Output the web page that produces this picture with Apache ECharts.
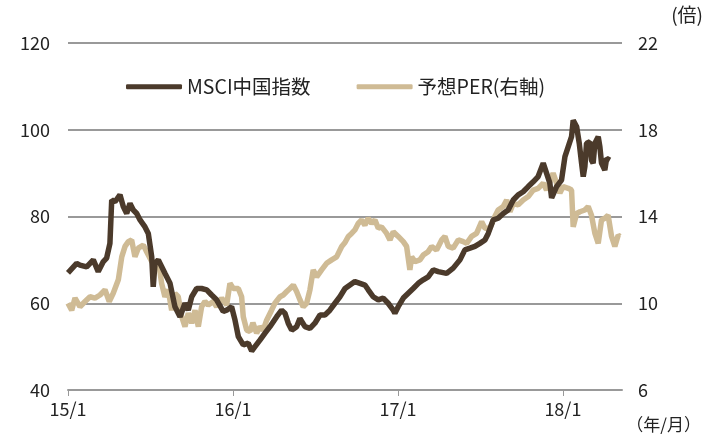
<!DOCTYPE html>
<html><head><meta charset="utf-8">
<script src="https://cdn.jsdelivr.net/npm/echarts@6/dist/echarts.min.js"></script>
<style>html,body{margin:0;padding:0;background:#fff}#c{width:715px;height:438px}</style>
</head><body><div id="c"></div>
<script>
// x positions are months since 2015/1
const xTickMonths = [0, 12, 24, 36];
const xTickLabels = ['15/1', '16/1', '17/1', '18/1'];
const seriesNames = ['MSCI中国指数', '予想PER(右軸)'];

const msciMonths = [0,0.63,0.87,1.36,1.84,2.2,2.57,2.81,3.05,3.18,3.42,3.78,4.02,4.27,4.51,4.75,5.0,5.24,5.6,5.84,6.09,6.2,6.33,6.57,7.05,7.42,7.78,8.15,8.51,8.75,9.0,9.36,9.72,10.09,10.45,10.81,11.29,11.54,11.9,12.15,12.39,12.75,13.11,13.36,13.6,13.96,14.33,14.69,15.18,15.54,15.78,16.02,16.27,16.63,16.87,17.24,17.6,17.96,18.33,18.69,19.05,19.42,19.78,20.15,20.51,20.87,21.24,21.6,21.84,22.2,22.57,22.93,23.29,23.66,23.78,24.02,24.39,24.75,25.11,25.48,25.84,26.2,26.57,26.93,27.54,28.02,28.51,28.87,29.24,29.6,29.96,30.33,30.57,30.93,31.29,31.66,32.02,32.39,32.75,33.11,33.48,33.84,34.2,34.57,34.81,35.05,35.18,35.54,35.9,36.15,36.39,36.63,36.75,37.0,37.19,37.36,37.48,37.6,37.72,37.96,38.08,38.2,38.33,38.57,38.69,38.81,38.93,39.05,39.18,39.42];
const msciValues = [67.0,69.2,68.8,68.4,70.0,67.3,69.6,70.4,73.8,83.8,83.4,85.0,82.3,80.7,83.0,81.5,80.7,79.2,77.6,76.1,70.7,63.8,69.2,70.0,66.9,64.6,59.2,56.9,60.0,58.4,61.5,63.4,63.4,63.1,61.9,60.8,58.1,58.4,59.2,56.1,52.3,50.4,50.8,49.0,50.0,51.5,53.1,54.6,56.9,58.4,57.7,55.4,53.8,54.6,56.5,54.6,54.2,55.4,57.3,57.3,58.4,60.0,61.5,63.4,64.2,65.0,64.6,64.2,63.1,61.5,60.8,61.2,60.0,58.4,57.7,59.2,61.2,62.3,63.4,64.6,65.4,66.1,67.7,67.3,66.9,68.1,70.0,72.3,72.7,73.1,73.8,74.6,76.1,79.2,79.6,80.7,81.5,83.8,85.0,85.7,86.9,88.0,89.2,92.3,90.0,87.7,84.3,86.9,88.4,93.8,96.1,98.4,102.2,100.7,96.9,92.3,89.2,91.5,96.9,97.2,93.0,92.3,96.9,98.4,96.1,92.3,91.5,90.7,93.4,93.0];

const perMonths = [0,0.27,0.51,0.87,1.24,1.6,1.96,2.33,2.69,3.0,3.29,3.66,3.91,4.15,4.39,4.63,4.87,5.11,5.48,5.72,6.09,6.33,6.57,6.81,7.05,7.29,7.54,7.78,8.02,8.27,8.51,8.75,9.0,9.24,9.48,9.72,9.96,10.2,10.57,10.81,11.18,11.54,11.78,12.02,12.39,12.63,12.75,13.0,13.24,13.45,13.72,13.96,14.2,14.45,14.81,15.05,15.42,15.66,15.91,16.15,16.39,16.63,16.87,17.11,17.36,17.6,17.84,18.09,18.45,18.81,19.18,19.54,19.91,20.15,20.39,20.63,20.87,21.11,21.36,21.6,21.84,22.09,22.33,22.57,22.81,23.18,23.42,23.66,24.02,24.39,24.63,24.87,25.0,25.24,25.6,25.84,26.2,26.45,26.81,27.18,27.42,27.66,28.02,28.39,28.75,29.0,29.36,29.72,30.09,30.33,30.69,31.05,31.29,31.66,31.91,32.15,32.39,32.75,33.11,33.48,33.84,34.2,34.57,34.81,35.05,35.29,35.54,35.78,36.02,36.39,36.63,36.75,37.0,37.24,37.6,37.84,38.08,38.33,38.57,38.81,39.05,39.29,39.54,39.78,40.02,40.15];
const perValues = [10.0,9.68,10.24,9.84,10.08,10.3,10.24,10.38,10.62,10.08,10.46,11.08,12.14,12.62,12.84,12.92,12.14,12.54,12.68,12.38,11.92,11.84,12.0,10.92,10.3,10.62,9.68,10.46,10.3,9.38,8.92,9.54,9.08,9.68,8.92,9.84,10.08,9.92,10.08,9.84,10.24,9.92,10.92,10.68,10.68,10.3,9.38,8.76,8.7,9.1,8.62,8.92,8.76,9.22,9.68,10.0,10.3,10.38,10.54,10.68,10.84,10.54,10.16,9.84,10.0,10.62,11.54,11.22,11.54,11.84,12.0,12.14,12.62,12.8,13.08,13.22,13.38,13.68,13.84,13.6,13.92,13.68,13.84,13.46,13.52,13.22,12.92,13.3,13.08,12.84,12.62,11.54,12.14,11.92,12.0,12.22,12.38,12.62,12.46,12.92,13.08,12.62,12.54,12.92,12.84,12.76,13.08,13.22,13.76,13.46,13.46,14.0,14.3,14.46,14.76,14.22,14.6,14.54,14.76,14.92,15.22,15.3,15.54,15.22,15.6,16.0,15.54,15.08,15.38,15.3,15.22,13.52,14.14,14.22,14.3,14.46,14.06,13.22,12.76,13.84,13.92,14.06,13.08,12.62,13.14,13.08];

const leftTicks = {min: 40, max: 120, interval: 20};
const rightTicks = {min: 6, max: 22, interval: 4};

const zip = (a, b) => a.map((v, i) => [v, b[i]]);
const FONT = '"Noto Sans CJK JP", "Noto Sans", sans-serif';
const BROWN = '#4b3a2b', BEIGE = '#cfbb95';

const chart = echarts.init(document.getElementById('c'), null, {renderer: 'canvas'});
chart.setOption({
  animation: false,
  backgroundColor: '#fff',
  textStyle: {fontFamily: FONT},
  grid: {left: 68, right: 93, top: 43, bottom: 48, containLabel: false},
  legend: {
    left: 121, top: 72, itemWidth: 56, itemHeight: 5, itemGap: 46,
    icon: 'roundRect',
    textStyle: {fontFamily: FONT, fontSize: 19.5, color: '#222'},
    data: seriesNames
  },
  xAxis: {
    type: 'value', min: 0, max: 40.3,
    splitLine: {show: false},
    axisLine: {show: true, lineStyle: {color: '#999', width: 2}},
    axisTick: {show: true, customValues: xTickMonths, length: 6, lineStyle: {color: '#999', width: 1}},
    axisLabel: {customValues: xTickMonths, margin: 10, fontSize: 18, color: '#222', fontFamily: FONT,
      formatter: v => xTickLabels[xTickMonths.indexOf(Math.round(v))] || ''}
  },
  yAxis: [{
    type: 'value', min: leftTicks.min, max: leftTicks.max, interval: leftTicks.interval,
    axisLine: {show: false}, axisTick: {show: false},
    splitLine: {show: true, lineStyle: {color: '#999', width: 2}},
    axisLabel: {margin: 18, fontSize: 18, color: '#222', fontFamily: FONT}
  }, {
    type: 'value', min: rightTicks.min, max: rightTicks.max, interval: rightTicks.interval,
    axisLine: {show: false}, axisTick: {show: false}, splitLine: {show: false},
    axisLabel: {margin: 16, fontSize: 18, color: '#222', fontFamily: FONT}
  }],
  graphic: [
    {type: 'text', right: 12, top: 5, style: {text: '(倍)', fontSize: 19, fill: '#222', fontFamily: FONT}},
    {type: 'text', right: 14, top: 416, style: {text: '（年/月）', fontSize: 17, fill: '#222', fontFamily: FONT}}
  ],
  series: [{
    name: seriesNames[1], type: 'line', yAxisIndex: 1, data: zip(perMonths, perValues),
    showSymbol: false, lineStyle: {color: BEIGE, width: 5.5}, itemStyle: {color: BEIGE}, z: 2
  }, {
    name: seriesNames[0], type: 'line', yAxisIndex: 0, data: zip(msciMonths, msciValues),
    showSymbol: false, lineStyle: {color: BROWN, width: 5.5}, itemStyle: {color: BROWN}, z: 3
  }]
});
</script></body></html>
